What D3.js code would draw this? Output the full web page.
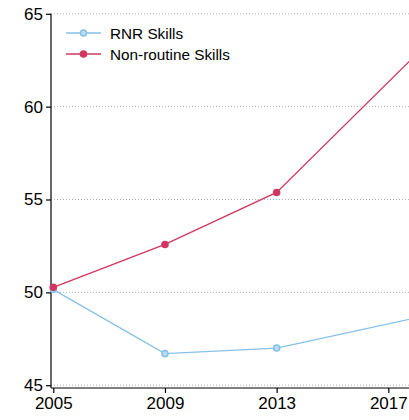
<!DOCTYPE html>
<html><head><meta charset="utf-8">
<script src="https://cdn.jsdelivr.net/npm/d3@7"></script>
<style>html,body{margin:0;padding:0;background:#fff;overflow:hidden}svg{display:block}</style>
</head><body>
<script>
const years = [2005, 2009, 2013, 2019];
const rnrSkills = [50.15, 46.7, 47.0, 48.95];
const nonRoutineSkills = [50.27, 52.58, 55.38, 64.3];
const yTicks = [45, 50, 55, 60, 65];
const xTicks = [2005, 2009, 2013, 2017];
const seriesNames = ["RNR Skills", "Non-routine Skills"];

const W = 409, H = 420;
const svg = d3.select("body").append("svg").attr("width", W).attr("height", H);
const font = "Liberation Sans, Arial, Helvetica, sans-serif";

const x = d3.scaleLinear().domain([2005, 2017]).range([53.3, 388.3]);
const y = d3.scaleLinear().domain([45, 65]).range([385.2, 13.8]);

// gridlines
svg.append("g").selectAll("line").data(yTicks).join("line")
  .attr("x1", 51).attr("x2", W).attr("y1", d => y(d)).attr("y2", d => y(d))
  .attr("stroke", "#b4b4b4").attr("stroke-width", 1).attr("stroke-dasharray", "1,2");

// y axis
const yAxis = svg.append("g").attr("transform", "translate(51,0)")
  .call(d3.axisLeft(y).tickValues(yTicks).tickSize(5).tickPadding(3).tickSizeOuter(0));
yAxis.select(".domain").attr("d", `M0,${y(65)}V388`).attr("stroke", "#000").attr("stroke-width", 1.2);
yAxis.selectAll(".tick line").attr("stroke", "#000").attr("stroke-width", 1.2);
yAxis.selectAll("text").attr("font-family", font).attr("font-size", 17).attr("fill", "#000");

// x axis
const xAxis = svg.append("g").attr("transform", "translate(0,388)")
  .call(d3.axisBottom(x).tickValues(xTicks).tickFormat(d3.format("d")).tickSize(5).tickPadding(4).tickSizeOuter(0));
xAxis.select(".domain").attr("d", `M51,0H${W}`).attr("stroke", "#000").attr("stroke-width", 1.2);
xAxis.selectAll(".tick line").attr("stroke", "#000").attr("stroke-width", 1.2);
xAxis.selectAll("text").attr("font-family", font).attr("font-size", 17).attr("fill", "#000");

const blue = "#86c1e8", red = "#d03760";
const line = d3.line().x((d, i) => x(years[i])).y(d => y(d));

const series = [
  {name: seriesNames[0], vals: rnrSkills, color: blue, hollow: true},
  {name: seriesNames[1], vals: nonRoutineSkills, color: red, hollow: false}
];
series.forEach(s => {
  svg.append("path").datum(s.vals).attr("d", line).attr("fill", "none")
    .attr("stroke", s.color).attr("stroke-width", 1.3);
});
series.forEach(s => {
  svg.append("g").selectAll("circle").data(s.vals).join("circle")
    .attr("cx", (d, i) => x(years[i])).attr("cy", d => y(d))
    .attr("r", s.hollow ? 3 : 3.8)
    .attr("fill", s.hollow ? "#b9dcf3" : s.color)
    .attr("stroke", s.color).attr("stroke-width", s.hollow ? 1.6 : 0);
});

// legend
const lg = svg.append("g");
series.forEach((s, i) => {
  const ly = 33 + i * 21;
  lg.append("line").attr("x1", 66).attr("x2", 101).attr("y1", ly).attr("y2", ly)
    .attr("stroke", s.color).attr("stroke-width", 1.3);
  lg.append("circle").attr("cx", 83.5).attr("cy", ly).attr("r", s.hollow ? 3 : 3.8)
    .attr("fill", s.hollow ? "#b9dcf3" : s.color)
    .attr("stroke", s.color).attr("stroke-width", s.hollow ? 1.6 : 0);
  lg.append("text").attr("x", 110).attr("y", ly + 5.5).text(s.name)
    .attr("font-family", font).attr("font-size", 15.3).attr("fill", "#000");
});
</script>
</body></html>
